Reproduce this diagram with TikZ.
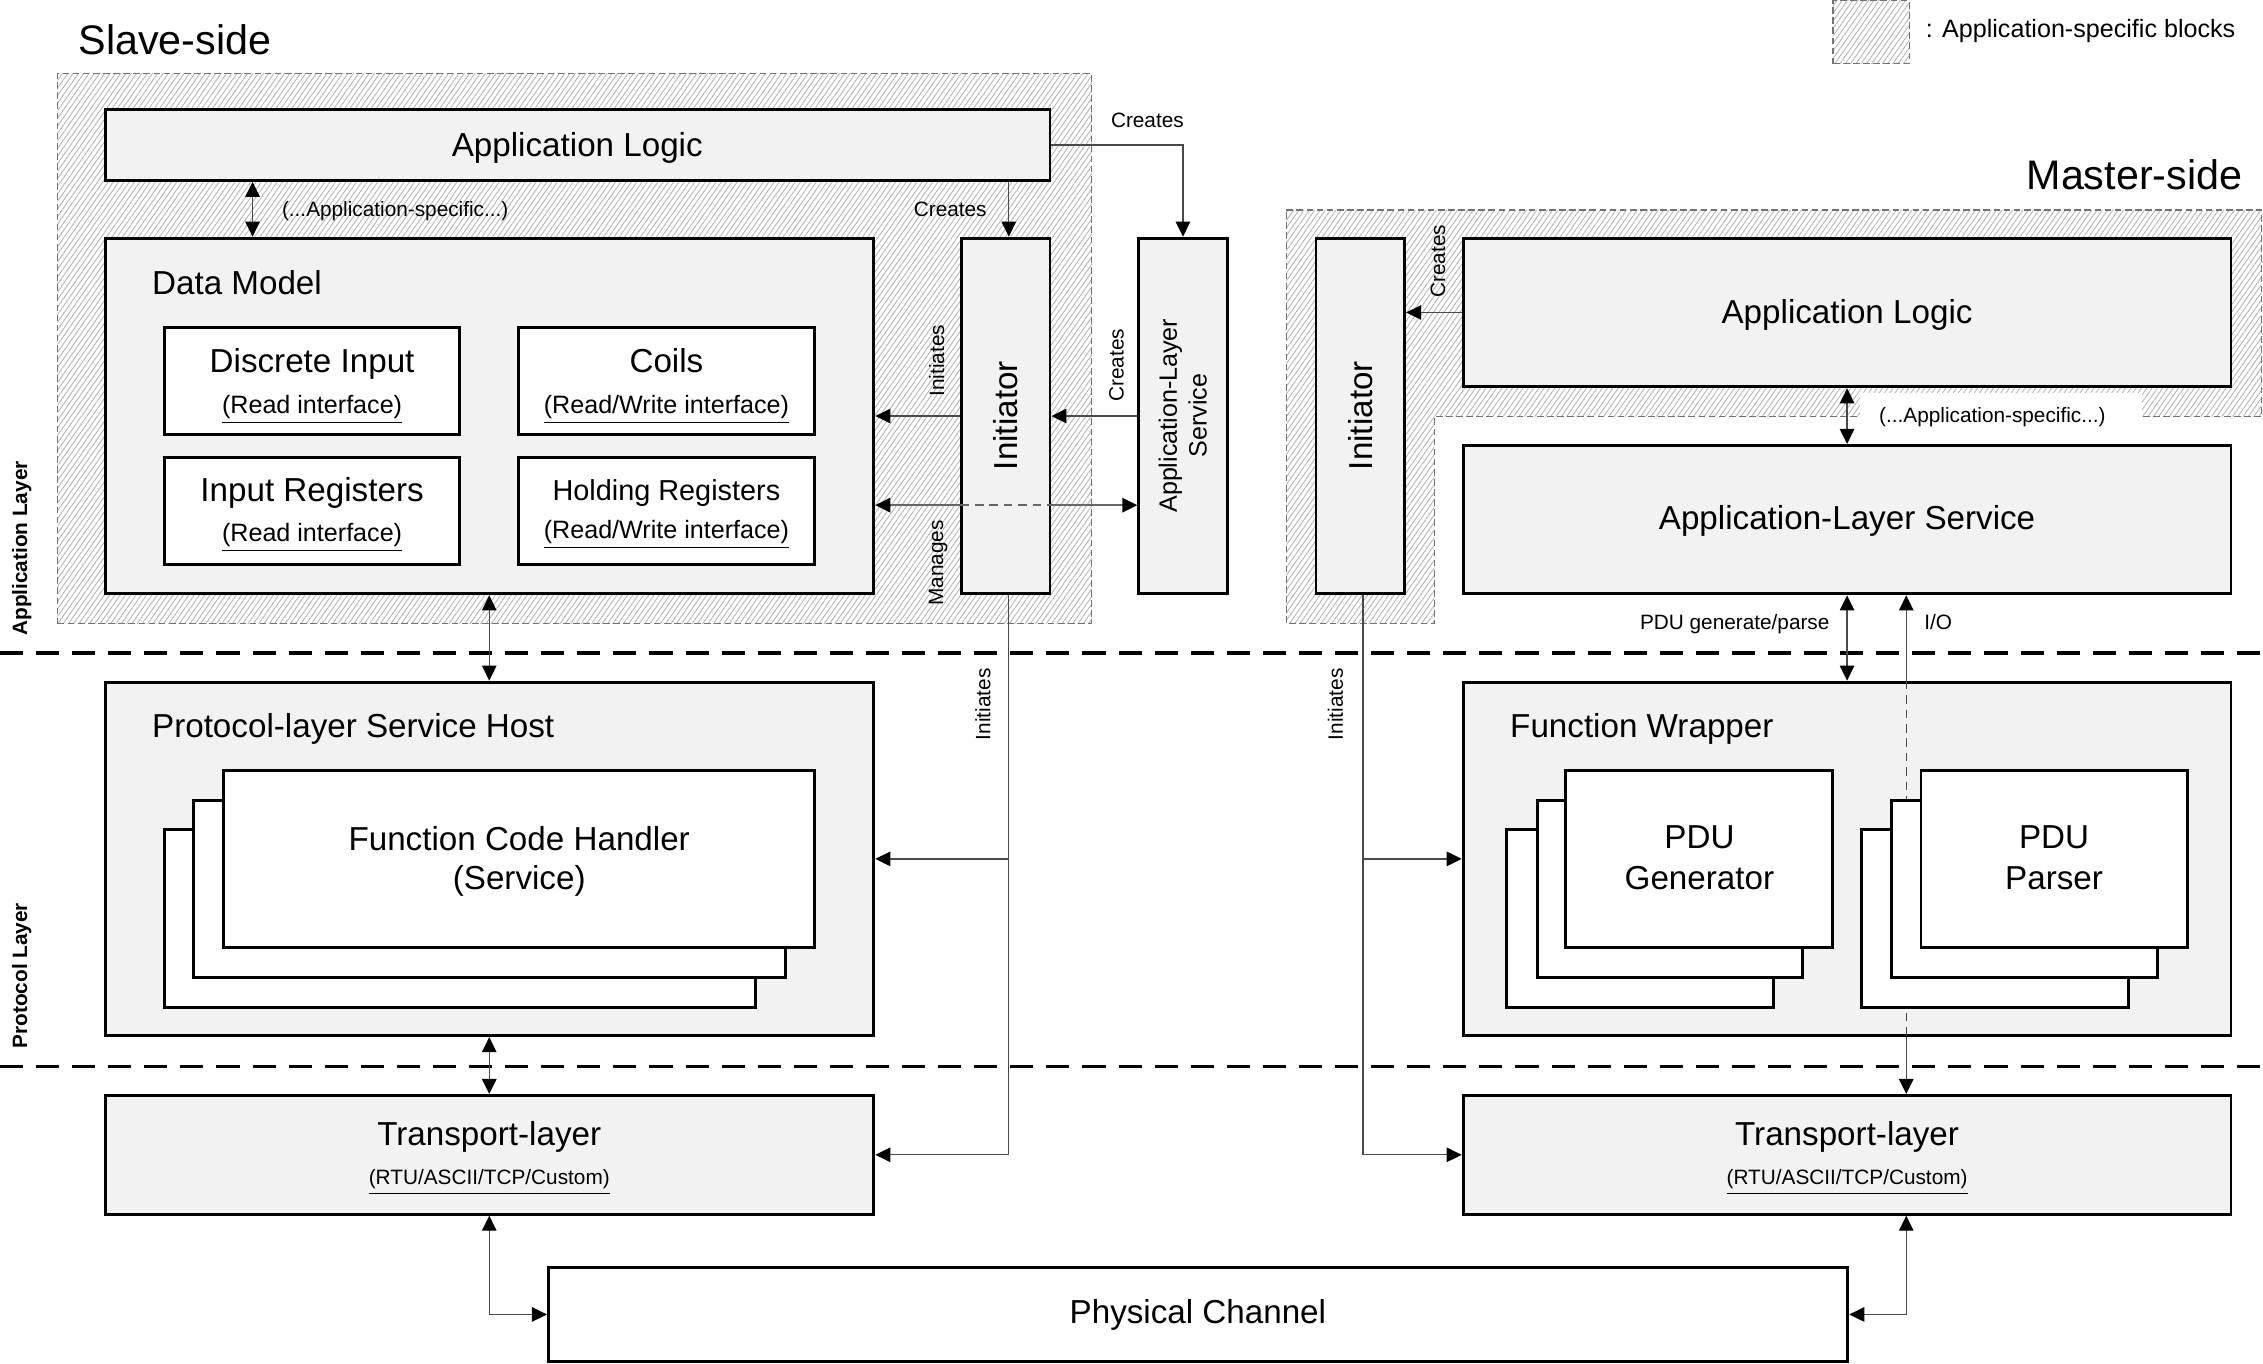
\documentclass[tikz,border=0pt]{standalone}
\usepackage{fontspec}
\setmainfont{Liberation Sans}
\usetikzlibrary{arrows.meta,patterns.meta,fit,calc}
\definecolor{boxgray}{HTML}{F2F2F2}
\definecolor{hatchgray}{HTML}{B4B4B4}
\definecolor{linegray}{HTML}{4A4A4A}
\tikzset{
  blk/.style={draw=black, line width=1pt, fill=boxgray, inner sep=0pt},
  wblk/.style={draw=black, line width=1pt, fill=white, inner sep=0pt},
  conn/.style={draw=linegray, line width=0.45pt},
  mconn/.style={draw=black!60, line width=0.75pt},
  appreg/.style={pattern={Lines[angle=55,distance=1.5pt,line width=0.3pt]}, pattern color=hatchgray,
    draw=black!55, dash pattern=on 2.3pt off 1.2pt, line width=0.45pt},
  sepline/.style={line width=1.15pt, dash pattern=on 8pt off 4.5pt},
  tx/.style={inner sep=0pt, anchor=base},
  rot/.style={inner sep=0pt, anchor=center, rotate=90},
  fbig/.style={font=\fontsize{11.5}{13.8}\selectfont},
  fmid/.style={font=\fontsize{10}{12}\selectfont},
  fsub/.style={font=\fontsize{8.7}{10.3}\selectfont},
  fsm/.style={font=\fontsize{7.2}{8.6}\selectfont},
  ftitle/.style={font=\fontsize{14.3}{17}\selectfont},
  flay/.style={font=\fontsize{7.2}{8.6}\selectfont\bfseries},
}
\begin{document}
\begin{tikzpicture}[x=0.5pt,y=-0.5pt,>={Triangle[length=5.2pt,width=5pt,color=black]}]
\useasboundingbox (0,0) rectangle (1568,944.4);
\fill[white] (0,0) rectangle (1568,944.4);

% helper columns / rows
\coordinate (k175) at (175,0);
\coordinate (k339) at (339,0);
\coordinate (k699) at (699,0);
\coordinate (k944) at (944.3,0);
\coordinate (k1321) at (1320.8,0);
\coordinate (r350) at (0,350);

% legend
\node[appreg, fit={(1270,0.5)(1323,44)}, inner sep=0pt] (legbox) {};
\node[tx, fsub, anchor=base west] (legtxt) at (1334,25.8) {: Application-specific blocks};

% titles
\node[tx, ftitle, anchor=base west] (slavet) at (54,37.6) {Slave-side};
\node[tx, ftitle, anchor=base east] (mastert) at (1554,131) {Master-side};

% application-specific regions
\node[appreg, fit={(40,51)(756.5,432)}, inner sep=0pt] (sreg) {};
\path[appreg] (891.3,145.4) -- (1566.8,145.4) -- (1566.8,288.6) -- (993.8,288.6) -- (993.8,432) -- (891.3,432) -- cycle;
\fill[white] (1289,272.6) rectangle (1484,300);

% layer separators
\draw[sepline] (0,452.4) -- (1568,452.4);
\draw[sepline] (0,739) -- (1568,739);
\node[rot, flay] (lapp) at (15,380) {Application Layer};
\node[rot, flay] (lpro) at (15,676) {Protocol Layer};

% ---------------- slave side boxes
\node[blk, fit={(73,76)(727.5,125)}] (sAL) {};
\node[blk, fit={(73,165)(605.5,411.5)}] (sDM) {};
\node[wblk, fit={(114,227)(318.5,301)}] (sDI) {};
\node[wblk, fit={(359,227)(564.5,301)}] (sCo) {};
\node[wblk, fit={(114,317)(318.5,391)}] (sIR) {};
\node[wblk, fit={(359,317)(564.5,391)}] (sHR) {};
\node[blk, fit={(666.5,165)(727.5,411.5)}] (sIn) {};
\node[blk, fit={(789,165)(850.3,411.5)}] (sALS) {};
\node[blk, fit={(73,472.6)(605.5,717.6)}] (sPSH) {};
\node[blk, fit={(73,759)(605.5,841.3)}] (sTr) {};
\node[wblk, fit={(380,878)(1280.3,943.5)}] (PC) {};

% ---------------- master side boxes
\node[blk, fit={(911.8,165)(973.3,411.5)}] (mIn) {};
\node[blk, fit={(1013.8,165)(1545.8,268)}] (mAL) {};
\node[blk, fit={(1013.8,308.6)(1545.8,411.5)}] (mALS) {};
\node[blk, fit={(1013.8,472.6)(1545.8,717.6)}] (mFW) {};
\node[blk, fit={(1013.8,759)(1545.8,841.3)}] (mTr) {};

% ---------------- slave connectors
\draw[conn,<->] (sAL.south -| k175) -- (sDM.north -| k175);
\draw[conn,->] (sAL.south -| k699) -- (sIn.north -| k699);
\draw[conn,->] (sAL.east) -| (sALS.north);
\draw[conn,->] (sIn.west) -- (sIn.west -| sDM.east);
\draw[conn,->] (sALS.west) -- (sALS.west -| sIn.east);
\draw[mconn,<-] (sDM.east |- r350) -- (sIn.west |- r350);
\draw[mconn,dash pattern=on 3pt off 2pt] (sIn.west |- r350) -- (sIn.east |- r350);
\draw[mconn,->] (sIn.east |- r350) -- (sALS.west |- r350);
\draw[conn,<->] (sDM.south -| k339) -- (sPSH.north -| k339);
\draw[conn,->] (sIn.south -| k699) |- (sTr.east);
\draw[conn,->] (k699 |- sPSH.east) -- (sPSH.east);
\draw[conn,<->] (sPSH.south -| k339) -- (sTr.north -| k339);
\draw[conn,<->] (sTr.south -| k339) |- (PC.west);

% ---------------- master connectors
\draw[conn,->] (mAL.west) -- (mAL.west -| mIn.east);
\draw[conn,<->] (mAL.south) -- (mALS.north);
\draw[conn,<->] (mALS.south) -- (mFW.north);
\draw[conn,<-] (mALS.south -| k1321) -- (mFW.north -| k1321);
\draw[conn,dash pattern=on 3pt off 2pt] (mFW.north -| k1321) -- (mFW.south -| k1321);
\draw[conn,->] (mFW.south -| k1321) -- (mTr.north -| k1321);
\draw[conn,->] (mIn.south -| k944) |- (mTr.west);
\draw[conn,->] (k944 |- mFW.west) -- (mFW.west);
\draw[conn,<->] (mTr.south -| k1321) |- (PC.east);

% ---------------- stacked cards
\node[wblk, fit={(114,574.5)(523.5,697.8)}] (fch3) {};
\node[wblk, fit={(134,554.4)(544,677)}] (fch2) {};
\node[wblk, fit={(155,534)(564.5,656.6)}] (fch1) {};
\node[wblk, fit={(1044,574.5)(1229,697.8)}] (gen3) {};
\node[wblk, fit={(1065,554.4)(1249,677)}] (gen2) {};
\node[wblk, fit={(1085,534)(1270,656.6)}] (gen1) {};
\node[wblk, fit={(1290,574.5)(1474.5,697.8)}] (par3) {};
\node[wblk, fit={(1310.5,554.4)(1495,677)}] (par2) {};
\node[wblk, fit={(1331,534)(1515.5,656.6)}] (par1) {};

% ---------------- slave texts
\node[tx, fbig] (tsAL) at (400,108.2) {Application Logic};
\node[tx, fsm, anchor=base west] (tsAS) at (195,150.2) {(...Application-specific...)};
\node[tx, fsm] (tsCr1) at (795,88.2) {Creates};
\node[tx, fsm, anchor=base east] (tsCr2) at (684,150.2) {Creates};
\node[tx, fbig, anchor=base west] (tsDM) at (105,203.8) {Data Model};
\node[tx, fbig] (tsDI) at (216.25,258.2) {Discrete Input};
\node[tx, fsub] (tsDIs) at (216.25,286.2) {\underline{(Read interface)}};
\node[tx, fbig] (tsCo) at (461.75,258.2) {Coils};
\node[tx, fsub] (tsCos) at (461.75,286.2) {\underline{(Read/Write interface)}};
\node[tx, fbig] (tsIR) at (216.25,347.7) {Input Registers};
\node[tx, fsub] (tsIRs) at (216.25,374.9) {\underline{(Read interface)}};
\node[tx, fmid] (tsHR) at (461.75,346.7) {Holding Registers};
\node[tx, fsub] (tsHRs) at (461.75,373.2) {\underline{(Read/Write interface)}};
\node[rot, fbig] (tsIn) at (697,288) {Initiator};
\node[rot, fsm] (tsIni) at (649,250) {Initiates};
\node[rot, fsm] (tsMan) at (650,390) {Manages};
\node[rot, fsm] (tsCr3) at (773.5,253) {Creates};
\node[rot, fsub, align=center] (tsALS) at (819.5,288) {Application-Layer\\Service};
\node[tx, fbig, anchor=base west] (tsPSH) at (105,510.8) {Protocol-layer Service Host};
\node[rot, fsm] (tsIni2) at (681,488) {Initiates};
\node[tx, fbig] (tsFCH) at (359.75,589.2) {Function Code Handler};
\node[tx, fbig] (tsFCHs) at (359.75,616.2) {(Service)};
\node[tx, fbig] (tsTr) at (339,793.6) {Transport-layer};
\node[tx, fsm] (tsTrs) at (339,820.9) {\underline{(RTU/ASCII/TCP/Custom)}};
\node[tx, fbig] (tPC) at (830,917.2) {Physical Channel};

% ---------------- master texts
\node[rot, fbig] (tmIn) at (942.5,288) {Initiator};
\node[rot, fsm] (tmCr) at (996.3,181) {Creates};
\node[tx, fbig] (tmAL) at (1279.8,224.2) {Application Logic};
\node[tx, fsm] (tmAS) at (1380.5,292.5) {(...Application-specific...)};
\node[tx, fbig] (tmALS) at (1279.8,367.2) {Application-Layer Service};
\node[tx, fsm, anchor=base east] (tmPDU) at (1268,436.5) {PDU generate/parse};
\node[tx, fsm, anchor=base west] (tmIO) at (1333,436.5) {I/O};
\node[rot, fsm] (tmIni) at (925.3,488) {Initiates};
\node[tx, fbig, anchor=base west] (tmFW) at (1046,510.8) {Function Wrapper};
\node[tx, fbig] (tmG1) at (1177.5,588.2) {PDU};
\node[tx, fbig] (tmG2) at (1177.5,616.2) {Generator};
\node[tx, fbig] (tmP1) at (1423.25,588.2) {PDU};
\node[tx, fbig] (tmP2) at (1423.25,616.2) {Parser};
\node[tx, fbig] (tmTr) at (1279.8,793.6) {Transport-layer};
\node[tx, fsm] (tmTrs) at (1279.8,820.9) {\underline{(RTU/ASCII/TCP/Custom)}};
\end{tikzpicture}
\end{document}
